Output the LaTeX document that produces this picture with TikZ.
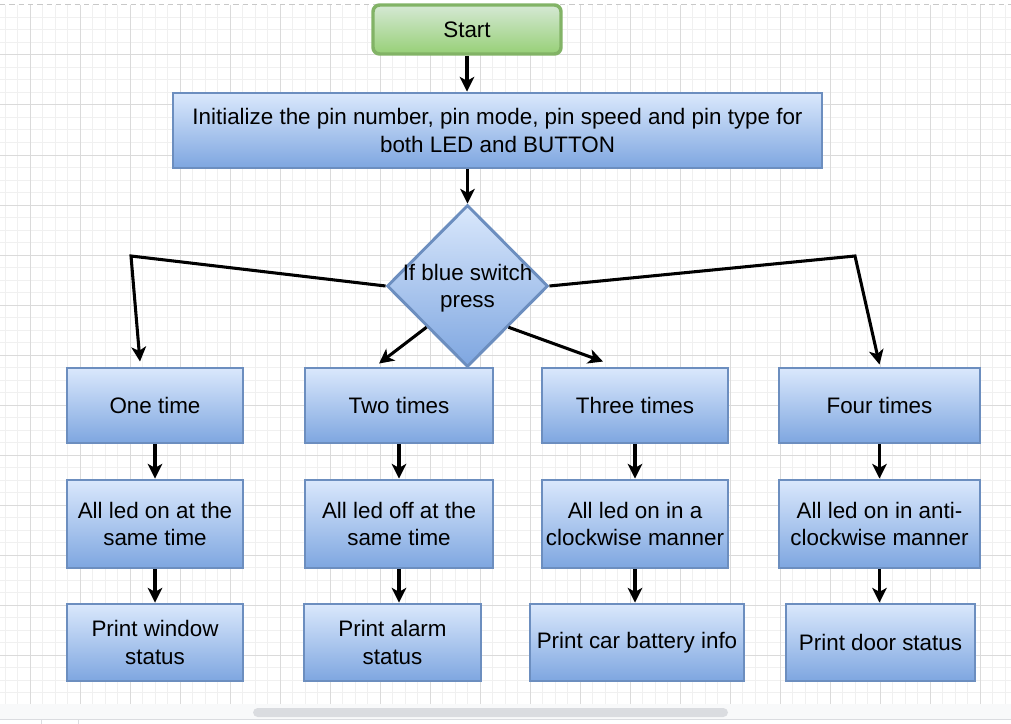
\documentclass[tikz,border=0pt]{standalone}
\usepackage{fontspec}
\setmainfont{Liberation Sans}
\usetikzlibrary{shapes.geometric,arrows.meta,calc}
\definecolor{gmajor}{HTML}{DADADA}
\definecolor{gminor}{HTML}{F0F0F0}
\definecolor{bborder}{HTML}{6C8EBF}
\definecolor{btop}{HTML}{DAE8FC}
\definecolor{bbot}{HTML}{7EA6E0}
\definecolor{gborder}{HTML}{82B366}
\definecolor{gtop}{HTML}{D5E8D4}
\definecolor{gbot}{HTML}{97D077}
\definecolor{uibg}{HTML}{F8F9FA}
\definecolor{uibar}{HTML}{DADCE0}
\tikzset{
  px/.style={x=0.75pt,y=-0.75pt},
  txt/.style={font=\fontsize{16.8}{20.3}\selectfont},
  bluebox/.style={draw=bborder,line width=2.2pt,top color=btop,bottom color=bbot,
    rectangle,inner sep=1pt,align=center,txt},
  greenbox/.style={draw=gborder,line width=2.6pt,top color=gtop,bottom color=gbot,
    rounded corners=5pt,inner sep=1pt,align=center,txt},
  decbox/.style={draw=bborder,line width=2.2pt,top color=btop,bottom color=bbot,
    diamond,aspect=1,inner sep=0pt,txt},
  conn/.style={line width=2.3pt,-{Stealth[length=11pt,width=11pt,inset=3pt]}},
}
\newcommand{\zerobox}[1]{\raisebox{-0.36em}[0pt][0pt]{\makebox[0pt]{\begin{tabular}{@{}c@{}}#1\end{tabular}}}}
\begin{document}
\begin{tikzpicture}[px]
\useasboundingbox (0,0) rectangle (1011,724);
\fill[white] (0,0) rectangle (1011,724);
% grid
\foreach \x in {5,17.5,...,1011} \draw[gminor,line width=0.75pt] (\x,5) -- (\x,704);
\foreach \y in {17.5,30,...,704} \draw[gminor,line width=0.75pt] (0,\y) -- (1011,\y);
\foreach \x in {30,80,...,1011} \draw[gmajor,line width=0.75pt] (\x,5) -- (\x,704);
\foreach \y in {55,105,...,704} \draw[gmajor,line width=0.75pt] (0,\y) -- (1011,\y);
\draw[gmajor!80!gray,line width=0.75pt,dash pattern=on 4pt off 3pt] (0,5) -- (1011,5);
% ui bottom band
\fill[uibg] (0,704) rectangle (1011,719);
\fill[uibar,rounded corners=3.5pt] (253,708) rectangle (728,717);
\draw[uibar,line width=0.75pt] (0,719.5) -- (1011,719.5);
\draw[uibar,line width=0.75pt] (41,719.5) -- (41,724) (78,719.5) -- (78,724);

% nodes
\node[greenbox,minimum width=141pt,minimum height=36.75pt] (start) at (467,29.5) {Start};
\node[bluebox,minimum width=486.75pt,minimum height=56.25pt] (init) at (497.5,130.5)
  {Initialize the pin number, pin mode, pin speed and pin type for\\both LED and BUTTON};
\node[decbox,minimum width=120.75pt,minimum height=121.5pt] (dec) at (467.5,286)
  {\zerobox{If blue switch\\press}};

\node[bluebox,minimum width=132pt,minimum height=56.25pt] (one) at (155,405.5) {One time};
\node[bluebox,minimum width=141pt,minimum height=56.25pt] (two) at (399,405.5) {Two times};
\node[bluebox,minimum width=139.5pt,minimum height=56.25pt] (three) at (635,405.5) {Three times};
\node[bluebox,minimum width=150.75pt,minimum height=56.25pt] (four) at (879.5,405.5) {Four times};

\node[bluebox,minimum width=132pt,minimum height=66pt] (oneb) at (155,524) {All led on at the\\same time};
\node[bluebox,minimum width=141pt,minimum height=66pt] (twob) at (399,524) {All led off at the\\same time};
\node[bluebox,minimum width=139.5pt,minimum height=66pt] (threeb) at (635,524) {All led on in a\\clockwise manner};
\node[bluebox,minimum width=150.75pt,minimum height=66pt] (fourb) at (879.5,524) {All led on in anti-\\clockwise manner};

\node[bluebox,minimum width=132pt,minimum height=57.75pt] (onec) at (155,642.5) {Print window\\status};
\node[bluebox,minimum width=132.75pt,minimum height=57.75pt] (twoc) at (392.5,642.5) {Print alarm\\status};
\node[bluebox,minimum width=160.5pt,minimum height=57.75pt] (threec) at (637,642.5) {Print car battery info};
\node[bluebox,minimum width=141.75pt,minimum height=57.75pt] (fourc) at (880.5,642.5) {Print door status};

% bend points
\coordinate (lb) at (131,256);
\coordinate (rb) at (855,256);

% connectors
\draw[conn] (start.south) -- (start.south |- init.north);
\draw[conn] (dec.north |- init.south) -- (dec.north);
\draw[conn] (dec.west) -- (lb) -- ($(one.north)+(-15,-5)$);
\draw[conn] (dec.east) -- (rb) -- ($(four.north)+(0,-2)$);
\draw[conn] (dec.south west) -- ($(two.north)+(-20,-3)$);
\draw[conn] (dec.south east) -- ($(three.north)+(-32,-5)$);

\draw[conn] (one.south) -- (oneb.north);
\draw[conn] (two.south) -- (twob.north);
\draw[conn] (three.south) -- (threeb.north);
\draw[conn] (four.south) -- (four.south |- fourb.north);

\draw[conn] (oneb.south) -- (onec.north);
\draw[conn] (twob.south) -- (twob.south |- twoc.north);
\draw[conn] (threeb.south) -- (threeb.south |- threec.north);
\draw[conn] (fourb.south) -- (fourb.south |- fourc.north);
\end{tikzpicture}
\end{document}
